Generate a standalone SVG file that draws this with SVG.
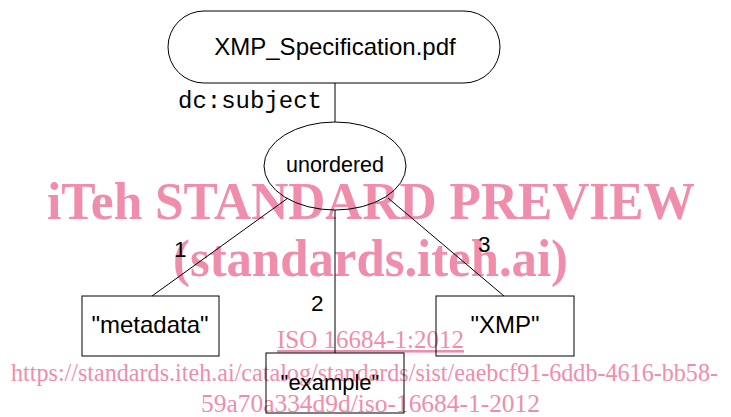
<svg xmlns="http://www.w3.org/2000/svg" width="731" height="417" viewBox="0 0 731 417">
  <style>
    .shape { fill: none; stroke: #000; stroke-width: 1; }
    .edge { fill: none; stroke: #000; stroke-width: 1; }
    .lbl { font-family: "Liberation Sans", Arial, sans-serif; fill: #000; }
    .num { font-size: 22.5px; }
    .mono { font-family: "Liberation Mono", "Courier New", monospace; fill: #000; }
    .wm { font-family: "Liberation Serif", "Times New Roman", serif; fill: #EF8DAB; }
    .wmb { font-weight: bold; }
  </style>
  <rect width="731" height="417" fill="#fff"/>
  <g id="watermark">
    <text class="wm wmb" x="47" y="219" font-size="53" textLength="648" lengthAdjust="spacingAndGlyphs">iTeh STANDARD PREVIEW</text>
    <text class="wm wmb" x="173" y="276" font-size="52" textLength="395" lengthAdjust="spacingAndGlyphs">(standards.iteh.ai)</text>
    <text class="wm" x="277" y="348" font-size="26" textLength="187" lengthAdjust="spacingAndGlyphs" text-decoration="underline">ISO 16684-1:2012</text>
    <text class="wm" x="11" y="381" font-size="25" textLength="707" lengthAdjust="spacingAndGlyphs">https://standards.iteh.ai/catalog/standards/sist/eaebcf91-6ddb-4616-bb58-</text>
    <text class="wm" x="201" y="412" font-size="25" textLength="339" lengthAdjust="spacingAndGlyphs">59a70a334d9d/iso-16684-1-2012</text>
  </g>
  <g id="connectors">
    <line class="edge" x1="335" y1="83" x2="335" y2="122"/>
    <text class="mono" x="178" y="108" font-size="24">dc:subject</text>
    <line class="edge" x1="288" y1="198" x2="152" y2="296"/>
    <text class="lbl num" x="174" y="257">1</text>
    <line class="edge" x1="335" y1="210" x2="335" y2="353"/>
    <text class="lbl num" x="311" y="311">2</text>
    <line class="edge" x1="388" y1="198" x2="504" y2="296"/>
    <text class="lbl num" x="478" y="252">3</text>
  </g>
  <g id="node-file">
    <rect class="shape" x="168" y="11" width="332" height="72" rx="36" ry="36"/>
    <text class="lbl" x="335" y="55" font-size="24" text-anchor="middle">XMP_Specification.pdf</text>
  </g>
  <g id="node-unordered">
    <ellipse class="shape" cx="335" cy="166" rx="71" ry="44"/>
    <text class="lbl" x="335" y="172" font-size="21.5" text-anchor="middle">unordered</text>
  </g>
  <g id="node-metadata">
    <rect class="shape" x="82" y="296" width="137" height="60"/>
    <text class="lbl" x="150" y="333" font-size="24" text-anchor="middle">"metadata"</text>
  </g>
  <g id="node-example">
    <rect class="shape" x="266" y="353" width="138" height="60"/>
    <text class="lbl" x="330" y="390" font-size="22" text-anchor="middle">"example"</text>
  </g>
  <g id="node-xmp">
    <rect class="shape" x="436" y="296" width="138" height="60"/>
    <text class="lbl" x="505" y="333" font-size="24" text-anchor="middle">"XMP"</text>
  </g>
</svg>
